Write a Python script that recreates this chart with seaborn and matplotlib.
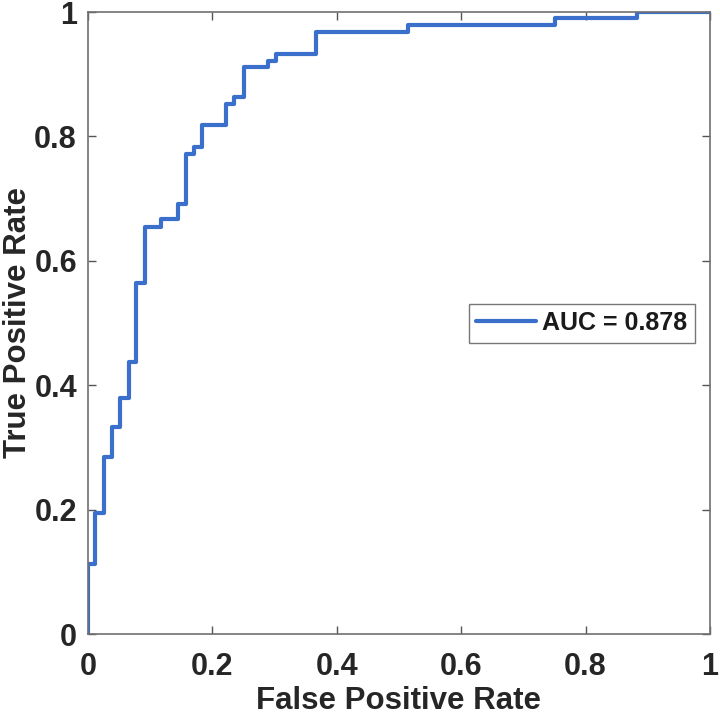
import matplotlib
matplotlib.use("Agg")
import matplotlib.pyplot as plt
import seaborn as sns
import pandas as pd

fpr = [0.0, 0.0, 0.011, 0.025, 0.038, 0.051, 0.066, 0.077, 0.092, 0.117, 0.144,
       0.158, 0.171, 0.184, 0.222, 0.235, 0.250, 0.289, 0.302, 0.367, 0.514,
       0.750, 0.882, 1.0]
tpr = [0.0, 0.113, 0.194, 0.285, 0.333, 0.379, 0.438, 0.564, 0.655, 0.668, 0.691,
       0.772, 0.783, 0.818, 0.852, 0.864, 0.911, 0.922, 0.933, 0.968, 0.979,
       0.991, 1.0, 1.0]
auc_label = "AUC = 0.878"
ticks = [0, 0.2, 0.4, 0.6, 0.8, 1]
tick_labels = ["0", "0.2", "0.4", "0.6", "0.8", "1"]

sns.set_style("white")
plt.rcParams['font.family'] = ['Liberation Sans', 'DejaVu Sans']

df = pd.DataFrame({"fpr": fpr, "tpr": tpr})

fig = plt.figure(figsize=(7.2, 7.17), dpi=100)
ax = fig.add_axes([88/720, 1 - 634/717, 622/720, 622/717])

sns.lineplot(data=df, x="fpr", y="tpr", ax=ax, estimator=None, sort=False,
             drawstyle="steps-post", color="#3a6fcb", linewidth=3.0, label=auc_label)

ax.set_xlim(0, 1)
ax.set_ylim(0, 1)
ax.set_xticks(ticks)
ax.set_yticks(ticks)
ax.set_xticklabels(tick_labels, fontsize=22, fontweight="bold", color="#262626")
ax.set_yticklabels(tick_labels, fontsize=22, fontweight="bold", color="#262626")
ax.tick_params(axis="x", pad=13)
ax.tick_params(axis="y", pad=8)
ax.tick_params(direction="in", length=6, width=1, color="#555555",
               top=True, right=True, bottom=True, left=True)
for s in ax.spines.values():
    s.set_visible(True)
    s.set_color("#707070")
    s.set_linewidth(1.2)

ax.set_xlabel("False Positive Rate", fontsize=22.5, fontweight="bold", color="#262626", labelpad=3)
ax.set_ylabel("True Positive Rate", fontsize=22.5, fontweight="bold", color="#262626", labelpad=1)

leg = ax.legend(loc="center right", bbox_to_anchor=(0.976, 0.5),
                prop={"weight": "bold", "size": 18}, frameon=True, fancybox=False,
                edgecolor="#555555", handlelength=2.4, borderpad=0.3, handletextpad=0.25,
                borderaxespad=0)
leg.get_frame().set_linewidth(1.0)
for t in leg.get_texts():
    t.set_color("#1a1a1a")

fig.savefig("out.png", dpi=100)
